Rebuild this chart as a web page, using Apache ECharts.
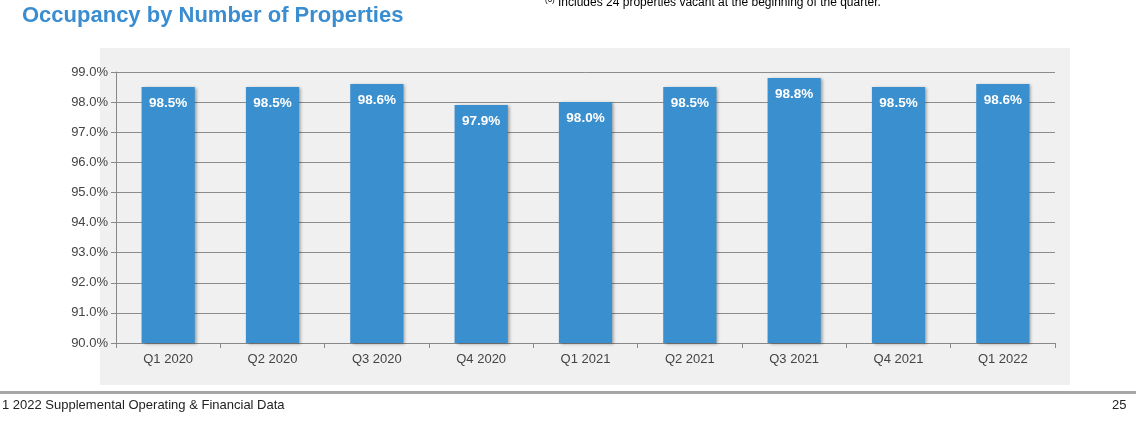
<!DOCTYPE html>
<html><head><meta charset="utf-8">
<script src="https://cdn.jsdelivr.net/npm/echarts@6/dist/echarts.min.js"></script>
<style>html,body{margin:0;padding:0;background:#fff}#c{width:1136px;height:421px}</style>
</head><body><div id="c"></div>
<script>
// quarters and occupancy (%)
let quarters = ['Q1 2020', 'Q2 2020', 'Q3 2020', 'Q4 2020', 'Q1 2021', 'Q2 2021', 'Q3 2021', 'Q4 2021', 'Q1 2022'];
let occupancy = [98.5, 98.5, 98.6, 97.9, 98.0, 98.5, 98.8, 98.5, 98.6];

let myChart = echarts.init(document.getElementById('c'));
let font = 'Liberation Sans, Arial, sans-serif';

let option = {
  animation: false,
  textStyle: { fontFamily: font },
  graphic: [
    { type: 'rect', z: -10, shape: { x: 100, y: 48, width: 970, height: 337 }, style: { fill: '#f0f0f0' } },
    { type: 'rect', shape: { x: 0, y: 391, width: 1136, height: 3 }, style: { fill: '#a6a6a6' } },
    { type: 'text', left: 22, top: 5, style: { text: 'Occupancy by Number of Properties', fill: '#3a8dd0', font: 'bold 22px ' + font } },
    { type: 'text', left: 545, top: -4, style: { text: '(6)', fill: '#000', font: '8px ' + font } },
    { type: 'text', left: 558, top: -3, style: { text: 'Includes 24 properties vacant at the beginning of the quarter.', fill: '#000', font: '12px ' + font } },
    { type: 'text', left: 2, top: 399, style: { text: '1 2022 Supplemental Operating & Financial Data', fill: '#222', font: '13px ' + font } },
    { type: 'text', left: 1112, top: 399, style: { text: '25', fill: '#222', font: '13px ' + font } }
  ],
  grid: { left: 116, right: 81, top: 72, bottom: 78 },
  xAxis: {
    type: 'category',
    data: quarters,
    axisLine: { lineStyle: { color: '#888' } },
    axisTick: { show: true, lineStyle: { color: '#888' } },
    axisLabel: { color: '#444', fontSize: 13, margin: 10 }
  },
  yAxis: {
    type: 'value',
    min: 90, max: 99, interval: 1,
    axisLine: { show: true, lineStyle: { color: '#888' } },
    axisTick: { show: true, lineStyle: { color: '#888' } },
    splitLine: { lineStyle: { color: '#8c8c8c' } },
    axisLabel: { color: '#444', fontSize: 13, formatter: v => v.toFixed(1) + '%' }
  },
  series: [{
    type: 'bar',
    data: occupancy,
    barWidth: '51%',
    itemStyle: { color: '#3a8fcf', shadowColor: 'rgba(0,0,0,0.35)', shadowBlur: 3, shadowOffsetX: 2, shadowOffsetY: 1 },
    label: {
      show: true, position: 'insideTop', distance: 9,
      color: '#fff', fontWeight: 'bold', fontSize: 13.5,
      formatter: p => p.value.toFixed(1) + '%'
    }
  }]
};
myChart.setOption(option);
</script></body></html>
